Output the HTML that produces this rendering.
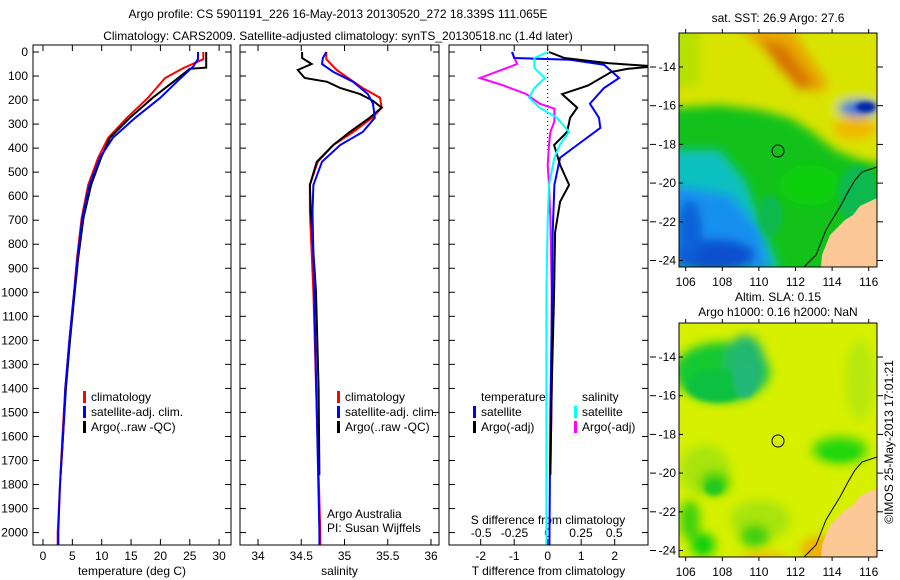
<!DOCTYPE html>
<html><head><meta charset="utf-8">
<style>
html,body{margin:0;padding:0;background:#fff;}
svg{display:block;font-family:"Liberation Sans",sans-serif;}
text{font-size:12px;fill:#000;}
</style></head>
<body>
<svg id="fig" width="900" height="580" viewBox="0 0 900 580">
<defs>
<clipPath id="c1"><rect x="33" y="45" width="198" height="500"/></clipPath>
<clipPath id="c2"><rect x="240" y="45" width="199" height="500"/></clipPath>
<clipPath id="c3"><rect x="449" y="45" width="199" height="500"/></clipPath>
<clipPath id="m1"><rect x="679" y="33" width="198" height="234"/></clipPath>
<clipPath id="m2"><rect x="679" y="323" width="198" height="234"/></clipPath>
<filter id="bl" x="-20%" y="-20%" width="140%" height="140%"><feGaussianBlur stdDeviation="5"/></filter>
<filter id="bl2" x="-20%" y="-20%" width="140%" height="140%"><feGaussianBlur stdDeviation="2.5"/></filter>
</defs>
<text x="338" y="18" text-anchor="middle">Argo profile: CS 5901191_226 16-May-2013 20130520_272 18.339S 111.065E</text>
<text x="338" y="40" text-anchor="middle">Climatology: CARS2009. Satellite-adjusted climatology: synTS_20130518.nc (1.4d later)</text>
<g id="p1"></g>
<g id="p2"></g>
<g id="p3"></g>

<!-- map 1 -->
<g>
<text x="778" y="22" text-anchor="middle">sat. SST: 26.9 Argo: 27.6</text>
<g clip-path="url(#m1)">
<rect x="679" y="33" width="198" height="234" fill="#12c21a"/>
<g filter="url(#bl)">
<polygon points="670,20 890,20 890,165 860,160 835,150 810,130 790,118 760,110 720,105 670,108" fill="#d8e400"/>
<polygon points="670,20 700,20 700,85 670,90" fill="#b8e000"/>
<polygon points="735,25 790,25 830,85 815,95 785,70" fill="#e8a800"/>
<polygon points="760,40 785,45 815,85 800,92 775,65" fill="#d87400"/>
<ellipse cx="855" cy="128" rx="22" ry="12" fill="#f0b800"/>
<polygon points="670,150 720,150 745,180 760,220 780,270 670,270" fill="#10c0c0"/>
<polygon points="670,185 730,195 760,230 770,270 670,270" fill="#1890f0"/>
<ellipse cx="715" cy="255" rx="40" ry="16" fill="#0850d0"/>
<ellipse cx="690" cy="230" rx="12" ry="30" fill="#0860d8"/>
<ellipse cx="858" cy="108" rx="20" ry="8" fill="#1070e0"/>
<ellipse cx="810" cy="185" rx="30" ry="20" fill="#10d010"/>
</g>
<g filter="url(#bl2)"><ellipse cx="866" cy="107" rx="10" ry="5" fill="#0020a0"/><ellipse cx="858" cy="195" rx="20" ry="30" fill="#10b850"/><ellipse cx="770" cy="215" rx="12" ry="20" fill="#10b850"/></g>
<polygon points="877,198 860,206 853,215 845,220 835,230 830,235 822,255 821,267 877,267" fill="#fbc896"/>
<polyline points="877,167 862,172 855,180 848,192 840,207 832,220 826,230 822,240 816,255 804,267" fill="none" stroke="#000" stroke-width="1"/>
<circle cx="778" cy="151" r="6" fill="none" stroke="#000"/>
</g>
<rect x="679" y="33" width="198" height="234" fill="none" stroke="#000"/>
</g>
<!-- map 2 -->
<g>
<text x="778" y="301" text-anchor="middle">Altim. SLA: 0.15</text>
<text x="778" y="316" text-anchor="middle">Argo h1000: 0.16 h2000: NaN</text>
<g clip-path="url(#m2)">
<rect x="679" y="323" width="198" height="234" fill="#d6f000"/>
<g filter="url(#bl)">
<ellipse cx="705" cy="470" rx="25" ry="25" fill="#a8e410"/>
<ellipse cx="760" cy="520" rx="30" ry="20" fill="#a8e410"/>
<ellipse cx="860" cy="380" rx="15" ry="40" fill="#b8e808"/>
<ellipse cx="722" cy="372" rx="48" ry="30" fill="#14c830"/>
<ellipse cx="745" cy="365" rx="20" ry="30" fill="#20b870"/>
<ellipse cx="840" cy="450" rx="28" ry="14" fill="#40d810"/>
<ellipse cx="715" cy="483" rx="15" ry="12" fill="#40d010"/>
<ellipse cx="755" cy="536" rx="15" ry="12" fill="#40d010"/>
<ellipse cx="703" cy="545" rx="12" ry="12" fill="#10d010"/>
<ellipse cx="825" cy="550" rx="25" ry="14" fill="#f0b000"/>
<ellipse cx="765" cy="560" rx="25" ry="8" fill="#f0c000"/>
<ellipse cx="690" cy="520" rx="10" ry="20" fill="#40d010"/>
</g>
<g filter="url(#bl2)"><ellipse cx="717" cy="386" rx="30" ry="16" fill="#10c040"/><ellipse cx="745" cy="380" rx="12" ry="18" fill="#20b878"/><ellipse cx="840" cy="452" rx="18" ry="8" fill="#20d810"/><ellipse cx="714" cy="488" rx="9" ry="7" fill="#20c820"/></g>
<polygon points="877,488 860,496 853,505 845,510 835,520 830,525 822,545 821,557 877,557" fill="#fbc896"/>
<polyline points="877,457 862,462 855,470 848,482 840,497 832,510 826,520 822,530 816,545 804,557" fill="none" stroke="#000" stroke-width="1"/>
<circle cx="778" cy="441" r="6" fill="none" stroke="#000"/>
</g>
<rect x="679" y="323" width="198" height="234" fill="none" stroke="#000"/>
</g>
<text x="893" y="442" text-anchor="middle" transform="rotate(-90 893 442)">©IMOS 25-May-2013 17:01:21</text>
<g id="maxes"></g>
</svg>
<script>
// ---- data ----
const depthTicks = [0,100,200,300,400,500,600,700,800,900,1000,1100,1200,1300,1400,1500,1600,1700,1800,1900,2000];
const tempTicks = [0,5,10,15,20,25,30];
const salTicks = [34,34.5,35,35.5,36];
const dTTicks = [-2,-1,0,1,2];
const dSTicks = [-0.5,-0.25,0,0.25,0.5];
const dSTickLabels = ["-0.5","-0.25","0","0.25","0.5"];

const tClimDepth = [0,30,67,108,190,274,357,440,553,690,857,1000,1200,1400,1600,1800,2000,2050];
const tClim      = [27.3,27.3,23.9,20.8,17.9,14.3,11.1,9.4,7.7,6.6,5.8,5.3,4.5,3.8,3.3,2.9,2.5,2.5];
const tSatDepth = [0,30,60,124,190,274,357,440,553,690,857,1000,1200,1400,1600,1800,2000,2050];
const tSat      = [26.4,26.4,25.6,22.8,20.0,15.7,11.9,9.7,7.9,6.7,5.9,5.3,4.5,3.8,3.4,2.9,2.6,2.6];
const tArgoDepth = [0,65,70,124,190,274,357,440,553,690,857,1000,1200,1400,1600,1760];
const tArgo      = [27.8,27.8,25.0,22.2,18.7,14.8,11.4,9.9,8.2,6.9,6.0,5.4,4.6,3.9,3.4,3.0];

const sClimDepth = [0,30,75,108,150,190,232,274,333,387,457,553,665,1000,1500,2000,2050];
const sClim      = [34.79,34.79,34.91,35.04,35.21,35.41,35.43,35.32,35.10,34.87,34.69,34.60,34.60,34.64,34.68,34.72,34.72];
const sSatDepth = [0,25,50,83,124,175,215,274,333,387,457,553,665,1000,1500,2000,2050];
const sSat      = [34.79,34.75,34.74,34.87,35.10,35.27,35.33,35.35,35.21,34.95,34.74,34.64,34.63,34.65,34.68,34.71,34.71];
const sArgoDepth = [0,25,50,75,108,124,150,175,203,232,274,333,387,457,553,665,1000,1400,1760];
const sArgo      = [34.51,34.51,34.62,34.46,34.54,34.80,34.95,35.18,35.33,35.43,35.29,35.06,34.87,34.68,34.60,34.61,34.67,34.70,34.71];

const dTArgoDepth = [0,25,46,60,70,83,140,175,232,274,333,387,470,553,623,750,1000,1400,1760];
const dTArgo      = [0.04,0.5,1.8,3.2,2.4,1.9,1.2,0.43,0.88,0.67,0.58,0.19,0.37,0.64,0.37,0.22,0.19,0.12,0.08];
const dTSatDepth = [0,25,32,53,108,150,215,274,316,387,440,553,750,1000,1500,2050];
const dTSat      = [-1.06,-1.0,0.67,1.68,2.13,1.68,1.26,1.53,1.57,0.88,0.37,0.2,0.15,0.13,0.08,0.05];
const dSArgoDepth = [0,50,67,108,140,175,215,236,288,333,387,470,553,700,1000,1400,1760];
const dSArgo      = [-0.27,-0.23,-0.31,-0.51,-0.33,-0.16,-0.06,0.05,0.05,0.02,0.01,0.0,0.01,0.02,0.03,0.03,0.02];
const dSSatDepth = [0,25,67,108,150,190,232,274,333,387,440,553,700,1000,1500,2050];
const dSSat      = [0,-0.1,-0.1,-0.02,-0.1,-0.14,-0.06,0.07,0.16,0.09,0.05,0.01,0.0,-0.01,-0.01,-0.01];

const latTicks = [-14,-16,-18,-20,-22,-24];
const lonTicks = [106,108,110,112,114,116];

// ---- helpers ----
const NS="http://www.w3.org/2000/svg";
const yD = d => 52 + d*0.2403;
function mk(parent, tag, attrs){const e=document.createElementNS(NS,tag);for(const k in attrs)e.setAttribute(k,attrs[k]);parent.appendChild(e);return e;}
function txt(parent,x,y,s,anchor){const e=mk(parent,'text',{x:x,y:y,'text-anchor':anchor||'middle'});e.textContent=s;return e;}

function panel(g, x0, x1, xTicks, xLabels, xScale, clip, xlabel){
  const b=mk(g,'rect',{x:x0,y:45,width:x1-x0,height:500,fill:'none',stroke:'#000','stroke-width':1});
  
  
  depthTicks.forEach(d=>{
    mk(g,'line',{x1:x0,x2:x0+6,y1:yD(d),y2:yD(d),stroke:'#000'});
    mk(g,'line',{x1:x1,x2:x1-6,y1:yD(d),y2:yD(d),stroke:'#000'});
  });
  xTicks.forEach((v,i)=>{
    const x=xScale(v);
    mk(g,'line',{x1:x,x2:x,y1:545,y2:539,stroke:'#000'});
    mk(g,'line',{x1:x,x2:x,y1:45,y2:51,stroke:'#000'});
    if(xLabels){const t=txt(g,x,560,xLabels[i]);
      
      }
  });
  if(xlabel){const t=txt(g,(x0+x1)/2,575,xlabel);
    
    }
}
function series(g, clip, depths, vals, xs, color, name){
  const pts=depths.map((d,i)=>xs(vals[i]).toFixed(1)+','+yD(d).toFixed(1)).join(' ');
  const p=mk(g,'polyline',{points:pts,fill:'none',stroke:color,'stroke-width':2,'clip-path':'url(#'+clip+')'});
  
  
}
function legend(g,xBar,xText,y,label,color){
  mk(g,'rect',{x:xBar-1,y:y-6,width:3,height:12,fill:color});
  const t=txt(g,xText,y+4,label,'start');
  
  
}

// ---- panel 1 ----
const xT = v => 43 + v*5.87;
const p1=document.getElementById('p1');
panel(p1,33,231,tempTicks,tempTicks.map(String),xT,'c1','temperature (deg C)');
depthTicks.forEach(d=>{const t=txt(p1,28,yD(d)+4,String(d),'end');
  
  });
series(p1,'c1',tClimDepth,tClim,xT,'#ff0000','temp-climatology-line');
series(p1,'c1',tArgoDepth,tArgo,xT,'#000000','temp-argo-line');
series(p1,'c1',tSatDepth,tSat,xT,'#0000ff','temp-satellite-line');
legend(p1,84,91,397,'climatology','#ff0000');
legend(p1,84,91,412,'satellite-adj. clim.','#0000ff');
legend(p1,84,91,427,'Argo(..raw -QC)','#000');

// ---- panel 2 ----
const xS = v => 258 + (v-34)*86.5;
const p2=document.getElementById('p2');
panel(p2,240,439,salTicks,salTicks.map(String),xS,'c2','salinity');
series(p2,'c2',sClimDepth,sClim,xS,'#ff0000','sal-climatology-line');
series(p2,'c2',sArgoDepth,sArgo,xS,'#000000','sal-argo-line');
series(p2,'c2',sSatDepth,sSat,xS,'#0000ff','sal-satellite-line');
legend(p2,338,345,397,'climatology','#ff0000');
legend(p2,338,345,412,'satellite-adj. clim.','#0000ff');
legend(p2,338,345,427,'Argo(..raw -QC)','#000');
{const a=txt(p2,327,518,'Argo Australia','start');
 const b=txt(p2,327,532,'PI: Susan Wijffels','start');}

// ---- panel 3 ----
const xdT = v => 547.7 + v*33.5;
const xdS = v => 547.7 + v*133;
const p3=document.getElementById('p3');
panel(p3,449,648,dTTicks,dTTicks.map(String),xdT,'c3','T difference from climatology');
dSTicks.forEach((v,i)=>{const t=txt(p3,xdS(v),537,dSTickLabels[i]);
  
  });
{const t=txt(p3,548,524,'S difference from climatology');}
mk(p3,'line',{x1:xdT(0),x2:xdT(0),y1:45,y2:yD(420),stroke:'#000','stroke-dasharray':'1,3'});
series(p3,'c3',dSArgoDepth,dSArgo,xdS,'#ff00ff','sdiff-argo-line');
series(p3,'c3',dTSatDepth,dTSat,xdT,'#0000ff','tdiff-satellite-line');
series(p3,'c3',dTArgoDepth,dTArgo,xdT,'#000000','tdiff-argo-line');
series(p3,'c3',dSSatDepth,dSSat,xdS,'#00ffff','sdiff-satellite-line');
{const t=txt(p3,481,401,'temperature','start');
 const s=txt(p3,582,401,'salinity','start');}
legend(p3,474,481,412,'satellite','#0000ff');
legend(p3,474,481,427,'Argo(-adj)','#000');
legend(p3,575,582,412,'satellite','#00ffff');
legend(p3,575,582,427,'Argo(-adj)','#ff00ff');

// ---- map axes ----
const mg=document.getElementById('maxes');
const lonX = v => 685.7 + (v-106)*18.3;
[[33,67],[323,357]].forEach(([top,y14])=>{
  const latY = v => y14 + (-14-v)*19.35;
  latTicks.forEach(v=>{
    const y=latY(v);
    mk(mg,'line',{x1:650,x2:656,y1:y,y2:y,stroke:'#000'});
    mk(mg,'line',{x1:877,x2:883,y1:y,y2:y,stroke:'#000'});
    mk(mg,'line',{x1:679,x2:683,y1:y,y2:y,stroke:'#000'});
    const t=txt(mg,676,y+4,String(v),'end');
    
    
  });
  lonTicks.forEach(v=>{
    const x=lonX(v);
    mk(mg,'line',{x1:x,x2:x,y1:top,y2:top-4,stroke:'#000'});
    mk(mg,'line',{x1:x,x2:x,y1:top+234,y2:top+238,stroke:'#000'});
    const t=txt(mg,x,top+253,String(v));
    
    
  });
});
</script>
</body></html>
